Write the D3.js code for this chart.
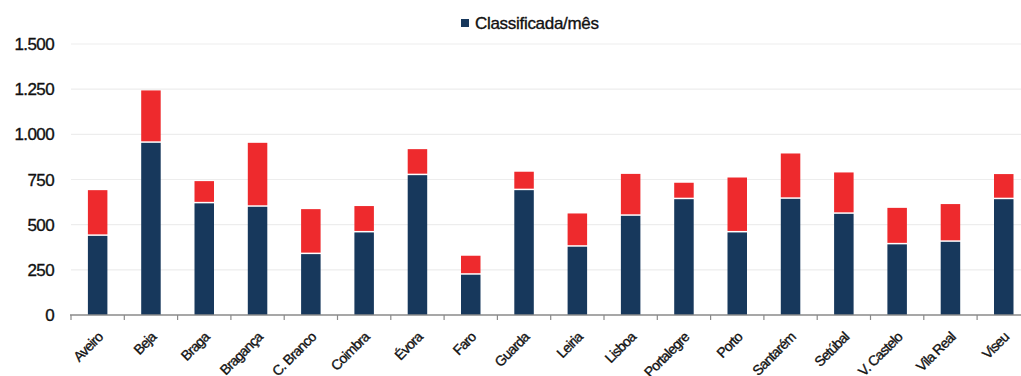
<!DOCTYPE html>
<html>
<head>
<meta charset="utf-8">
<script src="https://cdn.jsdelivr.net/npm/d3@7"></script>
<style>
  body { margin: 0; background: #fff; }
  svg { display: block; font-family: "Liberation Sans", Arial, sans-serif; }
  text { stroke: #111; stroke-width: 0.35px; }
</style>
</head>
<body>
<div id="chart"></div>
<script>
const districts = ['Aveiro', 'Beja', 'Braga', 'Bragança', 'C. Branco', 'Coimbra', 'Évora', 'Faro', 'Guarda',
    'Leiria', 'Lisboa', 'Portalegre', 'Porto', 'Santarém', 'Setúbal', 'V. Castelo', 'Vila Real', 'Viseu']
// lower (dark) segment
const classificada = [438, 953, 618, 599, 337, 457, 774, 223, 691, 378, 549, 641, 457, 643, 560, 391, 405, 641]
// top of the red segment (bar total)
const totals = [691, 1243, 741, 953, 586, 603, 918, 328, 793, 562, 781, 732, 761, 894, 789, 593, 614, 780]
const yTicks = [0, 250, 500, 750, 1000, 1250, 1500]
const yTickLabels = ['0', '250', '500', '750', '1.000', '1.250', '1.500']
const legendLabel = 'Classificada/mês'

const width = 1021, height = 376
const navy = '#17385c', red = '#ee2a2d'

const svg = d3.select('#chart').append('svg')
    .attr('width', width)
    .attr('height', height)

const step = 53.3
const xScale = d3.scaleBand()
    .domain(districts)
    .range([71, 71 + step * districts.length])
    .padding(0)

const yScale = d3.scaleLinear()
    .domain([0, 1500])
    .range([315, 44])

const barW = 19.5
const barX = d => xScale(d) + (xScale.bandwidth() - barW) / 2

// gridlines
svg.append('g').selectAll('line')
    .data(yTicks.slice(1))
    .enter().append('line')
    .attr('x1', 71).attr('x2', width)
    .attr('y1', d => yScale(d)).attr('y2', d => yScale(d))
    .attr('stroke', '#ededed')
    .attr('stroke-width', 1.2)

// y labels
svg.append('g').selectAll('text')
    .data(yTicks)
    .enter().append('text')
    .attr('x', 54)
    .attr('y', d => yScale(d) + 6)
    .attr('text-anchor', 'end')
    .attr('font-size', 17)
    .attr('fill', '#111')
    .attr('letter-spacing', -0.6)
    .text((d, i) => yTickLabels[i])

const data = districts.map((d, i) => ({name: d, low: classificada[i], total: totals[i]}))

// dark segment
svg.selectAll('.bar-low')
    .data(data)
    .enter().append('rect')
    .attr('class', 'bar-low')
    .attr('x', d => barX(d.name))
    .attr('y', d => yScale(d.low))
    .attr('width', barW)
    .attr('height', d => yScale(0) - yScale(d.low))
    .attr('fill', navy)

// red segment, with a thin white gap above the dark one
svg.selectAll('.bar-top')
    .data(data)
    .enter().append('rect')
    .attr('class', 'bar-top')
    .attr('x', d => barX(d.name))
    .attr('y', d => yScale(d.total))
    .attr('width', barW)
    .attr('height', d => yScale(d.low) - yScale(d.total) - 1.5)
    .attr('fill', red)

// x axis line + ticks
svg.append('line')
    .attr('x1', 70).attr('x2', width)
    .attr('y1', yScale(0)).attr('y2', yScale(0))
    .attr('stroke', '#8a8a8a')
    .attr('stroke-width', 1.5)

svg.append('g').selectAll('line')
    .data(districts)
    .enter().append('line')
    .attr('x1', d => xScale(d)).attr('x2', d => xScale(d))
    .attr('y1', yScale(0)).attr('y2', yScale(0) + 5)
    .attr('stroke', '#8a8a8a')
    .attr('stroke-width', 1.2)

// rotated category labels
svg.append('g').selectAll('text')
    .data(districts)
    .enter().append('text')
    .attr('transform', d => `translate(${xScale(d) + xScale.bandwidth() / 2 + 6}, 338) rotate(-45)`)
    .attr('text-anchor', 'end')
    .attr('font-size', 14)
    .attr('letter-spacing', -0.8)
    .attr('fill', '#111')
    .text(d => d)

// legend
const legend = svg.append('g')
legend.append('rect')
    .attr('x', 461).attr('y', 19)
    .attr('width', 8).attr('height', 8)
    .attr('fill', navy)
legend.append('text')
    .attr('x', 475).attr('y', 29)
    .attr('font-size', 17)
    .attr('letter-spacing', -0.3)
    .attr('fill', '#111')
    .text(legendLabel)
</script>
</body>
</html>
